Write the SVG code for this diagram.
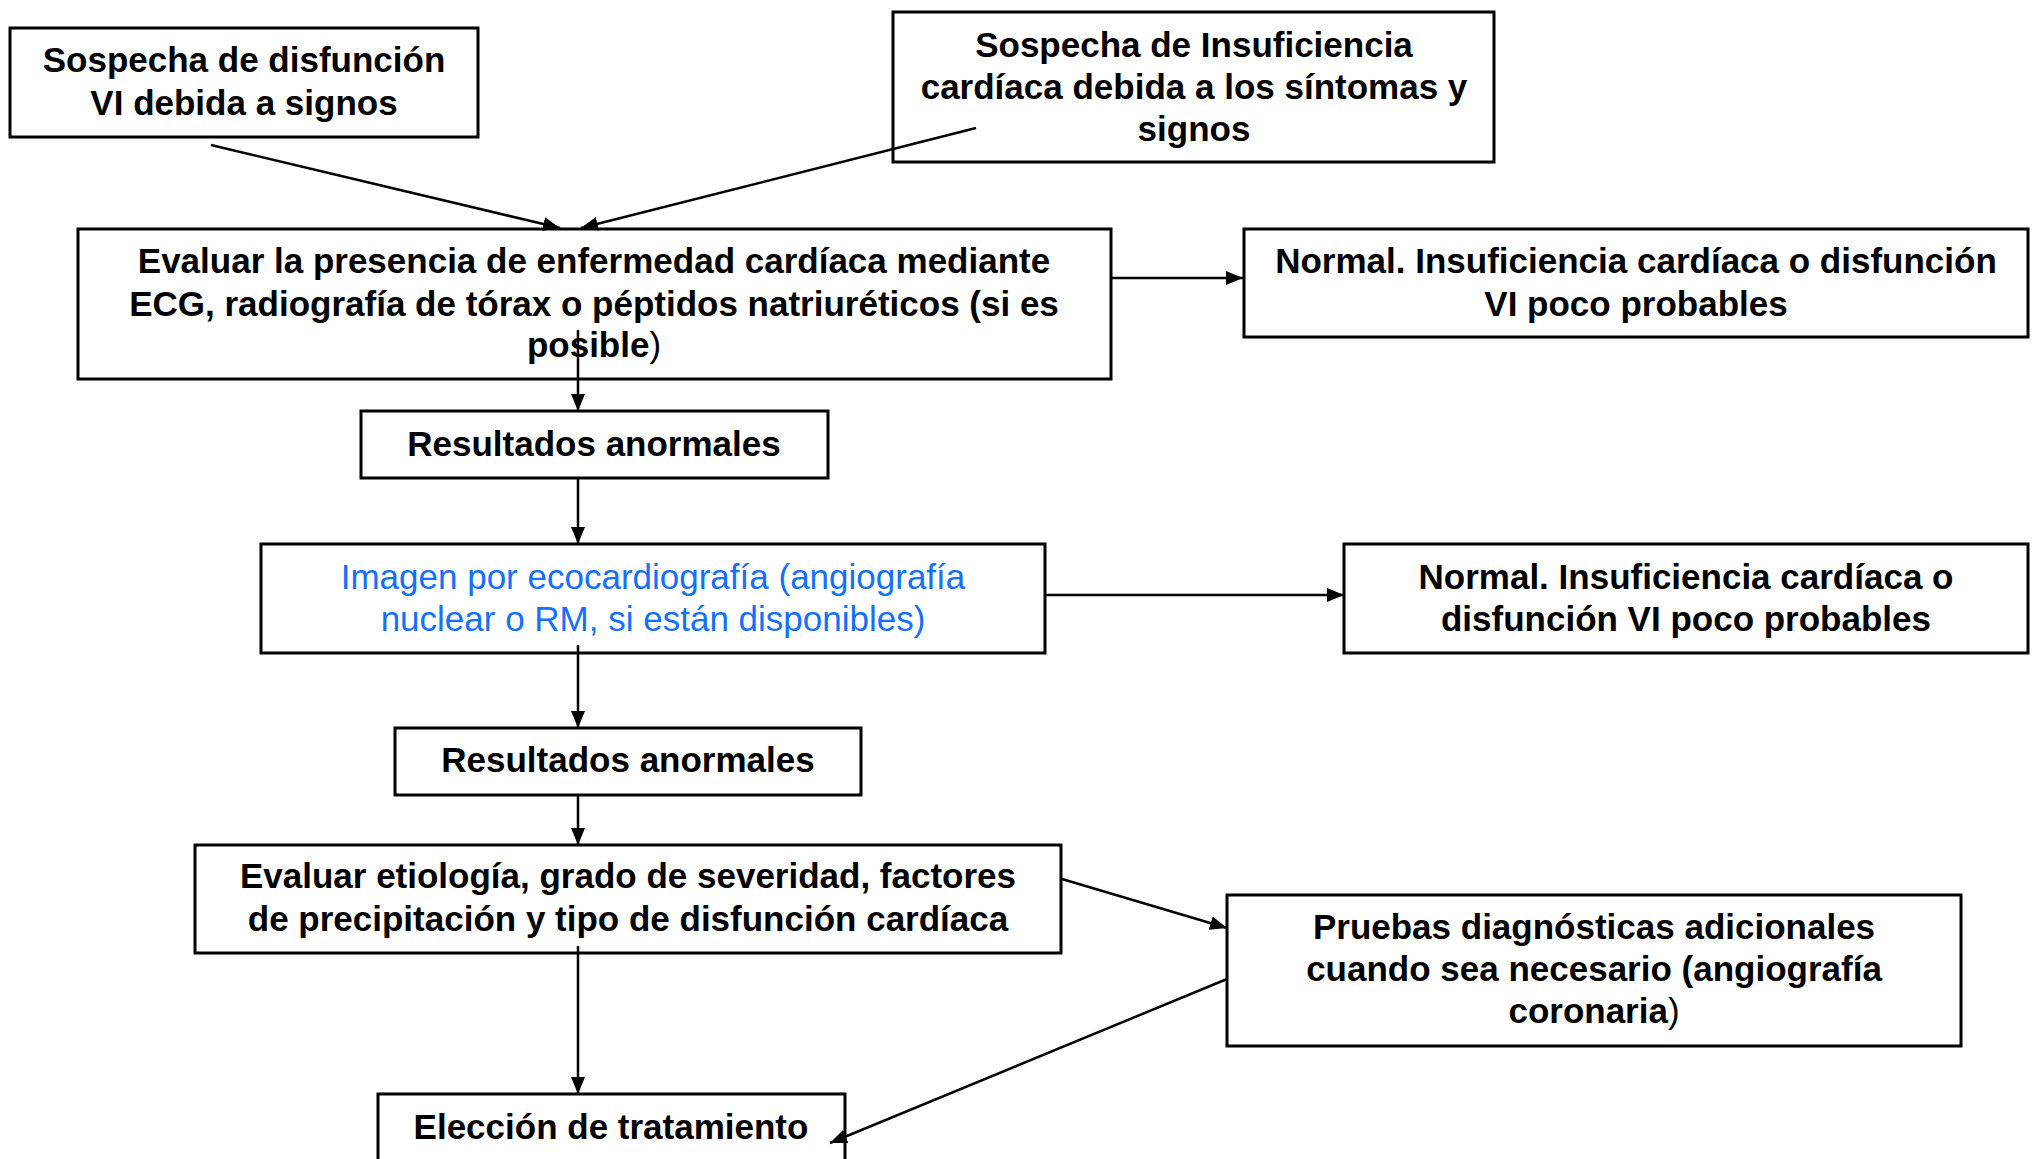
<svg xmlns="http://www.w3.org/2000/svg" width="2035" height="1159" viewBox="0 0 2035 1159">
<defs>
<marker id="arr" markerUnits="userSpaceOnUse" markerWidth="18" markerHeight="14" refX="17" refY="7" orient="auto">
<path d="M0,0 L17,7 L0,14 Z" fill="#000"/>
</marker>
<style>
.box{fill:#fff;stroke:#000;stroke-width:3}
.t{font-family:"Liberation Sans",Arial,sans-serif;font-size:35px;font-weight:bold;fill:#000;text-anchor:middle}
.b{font-family:"Liberation Sans",Arial,sans-serif;font-size:35px;font-weight:normal;fill:#1570ff;text-anchor:middle}
.n{font-weight:normal}
.c{fill:none;stroke:#000;stroke-width:2.5;marker-end:url(#arr)}
</style>
</defs>
<rect width="2035" height="1159" fill="#fff"/>
<g id="n1"><rect class="box" x="10" y="28" width="468" height="109"/>
<text class="t" x="244" y="72">Sospecha de disfunción</text><text class="t" x="244" y="115">VI debida a signos</text></g>
<g id="n2"><rect class="box" x="893" y="12" width="601" height="150"/>
<text class="t" x="1194" y="57">Sospecha de Insuficiencia</text><text class="t" x="1194" y="99">cardíaca debida a los síntomas y</text><text class="t" x="1194" y="141">signos</text></g>
<g id="n3"><rect class="box" x="78" y="229" width="1033" height="150"/>
<text class="t" x="594" y="273">Evaluar la presencia de enfermedad cardíaca mediante</text><text class="t" x="594" y="316">ECG, radiografía de tórax o péptidos natriuréticos (si es</text><text class="t" x="594" y="357">posible<tspan class="n">)</tspan></text></g>
<g id="n4"><rect class="box" x="1244" y="229" width="784" height="108"/>
<text class="t" x="1636" y="273">Normal. Insuficiencia cardíaca o disfunción</text><text class="t" x="1636" y="316">VI poco probables</text></g>
<g id="n5"><rect class="box" x="361" y="411" width="467" height="67"/>
<text class="t" x="594" y="456">Resultados anormales</text></g>
<g id="n6"><rect class="box" x="261" y="544" width="784" height="109"/>
<text class="b" x="653" y="589">Imagen por ecocardiografía (angiografía</text><text class="b" x="653" y="631">nuclear o RM, si están disponibles)</text></g>
<g id="n7"><rect class="box" x="1344" y="544" width="684" height="109"/>
<text class="t" x="1686" y="589">Normal. Insuficiencia cardíaca o</text><text class="t" x="1686" y="631">disfunción VI poco probables</text></g>
<g id="n8"><rect class="box" x="395" y="728" width="466" height="67"/>
<text class="t" x="628" y="772">Resultados anormales</text></g>
<g id="n9"><rect class="box" x="195" y="845" width="866" height="108"/>
<text class="t" x="628" y="888">Evaluar etiología, grado de severidad, factores</text><text class="t" x="628" y="931">de precipitación y tipo de disfunción cardíaca</text></g>
<g id="n10"><rect class="box" x="1227" y="895" width="734" height="151"/>
<text class="t" x="1594" y="939">Pruebas diagnósticas adicionales</text><text class="t" x="1594" y="981">cuando sea necesario (angiografía</text><text class="t" x="1594" y="1023">coronaria<tspan class="n">)</tspan></text></g>
<g id="n11"><rect class="box" x="378" y="1094" width="467" height="80"/>
<text class="t" x="611" y="1139">Elección de tratamiento</text></g>
<g id="connectors">
<path class="c" d="M211,145 L560,228"/>
<path class="c" d="M976,128 L581,228"/>
<path class="c" d="M1111,278 L1243,278"/>
<path class="c" d="M578,330 L578,411"/>
<path class="c" d="M578,478 L578,544"/>
<path class="c" d="M1045,595 L1344,595"/>
<path class="c" d="M578,645 L578,728"/>
<path class="c" d="M578,795 L578,845"/>
<path class="c" d="M1062,879 L1227,928"/>
<path class="c" d="M578,946 L578,1094"/>
<path class="c" d="M1227,979 L830,1143"/>
</g>
</svg>
